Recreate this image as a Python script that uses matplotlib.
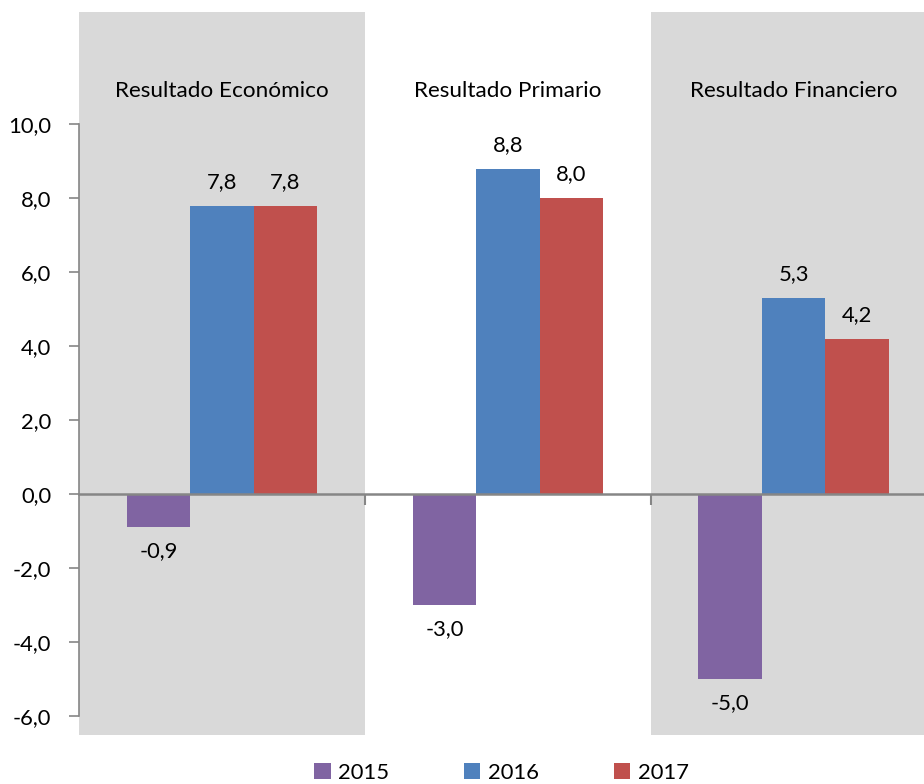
import matplotlib
matplotlib.use("Agg")
import matplotlib.pyplot as plt
import numpy as np

categories = ["Resultado Económico", "Resultado Primario", "Resultado Financiero"]
years = ["2015", "2016", "2017"]
v2015 = [-0.9, -3.0, -5.0]
v2016 = [7.8, 8.8, 5.3]
v2017 = [7.8, 8.0, 4.2]
yticks = [-6, -4, -2, 0, 2, 4, 6, 8, 10]

colors = ["#8064A2", "#4F81BD", "#C0504D"]
plt.rcParams['font.family'] = ['Lato', 'DejaVu Sans']
FS = 15.8

fig = plt.figure(figsize=(9.24, 7.84), dpi=100)
ax = fig.add_axes([79/924, 1-735/784, 1-79/924, (735-12)/784])

x = np.arange(len(categories))
w = 0.222
series = [v2015, v2016, v2017]
for i, (vals, c, lab) in enumerate(zip(series, colors, years)):
    xs = x + (i - 1) * w
    ax.bar(xs, vals, width=w, color=c, label=lab, zorder=2)
    for xi, v in zip(xs, vals):
        off = 17 if v >= 0 else -17
        ax.annotate(f"{v:.1f}".replace(".", ","), (xi, v), xytext=(0, off),
                    textcoords="offset points", ha="center", va="center",
                    fontsize=FS, color="#000000")

for i in (0, 2):
    ax.axvspan(i - 0.5, i + 0.5, color="#D9D9D9", zorder=0, lw=0)

for xi, cat in zip(x, categories):
    ax.text(xi, 10.9, cat, ha="center", va="center", fontsize=FS + 0.4)

ax.set_xlim(-0.5, 2.456)
ax.set_ylim(-6.51, 13.03)

ax.set_yticks(yticks)
ax.set_yticklabels([f"{t:.1f}".replace(".", ",") for t in yticks], fontsize=FS)
ax.tick_params(axis="y", length=7, width=1.2, color="#868686", pad=13)

ax.spines["top"].set_visible(False)
ax.spines["right"].set_visible(False)
ax.spines["left"].set_bounds(-6, 10)
ax.spines["left"].set_color("#868686")
ax.spines["left"].set_linewidth(1.2)
ax.spines["bottom"].set_position(("data", 0))
ax.spines["bottom"].set_color("#868686")
ax.spines["bottom"].set_linewidth(1.8)
ax.spines["bottom"].set_zorder(3)
ax.set_xticks([0.5, 1.5])
ax.set_xticklabels([])
ax.tick_params(axis="x", length=8, width=1.5, color="#868686", direction="out")

ax.legend(loc="center", bbox_to_anchor=(0.5, -0.0526), ncol=3, frameon=False,
          fontsize=FS, handlelength=0.75, handleheight=0.75, handletextpad=0.35,
          columnspacing=3.4)

fig.savefig("out.png", dpi=100)
